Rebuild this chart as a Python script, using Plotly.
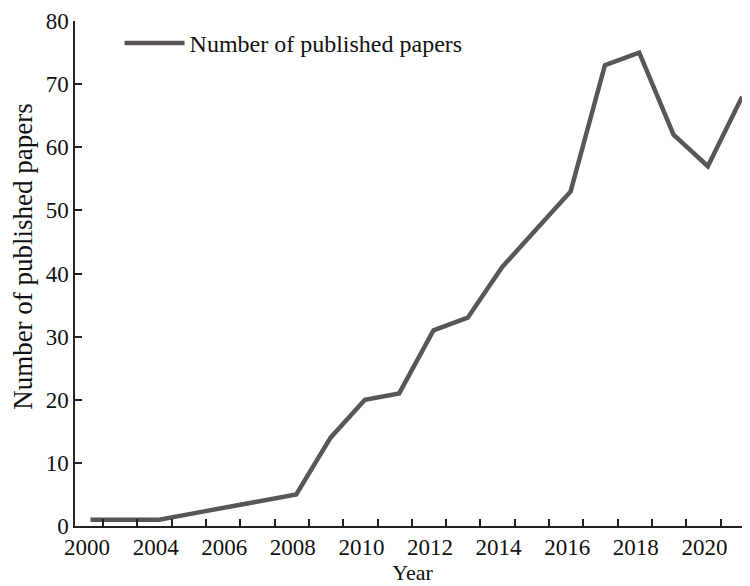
import plotly.graph_objects as go

# Data (20 yearly points, categorical positions)
point_index = list(range(20))
papers = [1, 1, 1, 2, 3, 4, 5, 14, 20, 21, 31, 33, 41, 47, 53, 73, 75, 62, 57, 68]
tick_labels = ["2000", "2004", "2006", "2008", "2010", "2012", "2014", "2016", "2018", "2020"]
y_ticks = [0, 10, 20, 30, 40, 50, 60, 70, 80]

FONT = "Liberation Serif, Times New Roman, serif"
LINE = "#5b5656"

label_pos = [2 * k - 0.1 for k in range(len(tick_labels))]
tick_pos = [k + 0.37 for k in range(19)]
x_range = [-0.452, 19.23]

fig = go.Figure()
fig.add_trace(go.Scatter(
    x=point_index, y=papers, mode="lines",
    line=dict(color=LINE, width=4.5),
    name="Number of published papers",
))
# invisible trace on the tick-mark axis
fig.add_trace(go.Scatter(x=[x_range[0]], y=[0], xaxis="x2", mode="markers",
                         marker=dict(opacity=0), showlegend=False, hoverinfo="skip"))

# page body has an 8px margin: figure sized so it ends at the window edge
fig.update_layout(
    width=742, height=578,
    margin=dict(l=67, r=0, t=13, b=60),
    paper_bgcolor="white", plot_bgcolor="white",
    font=dict(family=FONT, size=23, color="#111111"),
    showlegend=True,
    legend=dict(x=0.066, y=1.0, xanchor="left", yanchor="top",
                bgcolor="rgba(0,0,0,0)", font=dict(size=24, family=FONT),
                itemwidth=60),
    xaxis=dict(
        range=x_range, tickmode="array", tickvals=label_pos, ticktext=tick_labels,
        ticks="", showline=True, linecolor="#222222", linewidth=1.5,
        showgrid=False, zeroline=False, automargin=False,
        tickfont=dict(size=23, family=FONT),
        title=dict(text="Year", font=dict(size=22, family=FONT), standoff=0),
    ),
    xaxis2=dict(
        range=x_range, overlaying="x", side="bottom", anchor="y",
        tickmode="array", tickvals=tick_pos, showticklabels=False,
        ticks="inside", ticklen=7, tickwidth=1.5, tickcolor="#222222",
        showline=False, showgrid=False, zeroline=False, automargin=False,
    ),
    yaxis=dict(
        range=[0, 80], tickmode="array", tickvals=y_ticks,
        ticks="inside", ticklen=7, tickwidth=1.5, tickcolor="#222222",
        showline=True, linecolor="#222222", linewidth=1.5,
        showgrid=False, zeroline=False, automargin=False,
        tickfont=dict(size=23, family=FONT),
    ),
    annotations=[dict(
        text="Number of published papers", textangle=-90,
        xref="paper", yref="paper", x=-0.077, y=0.533,
        xanchor="center", yanchor="middle", showarrow=False, borderpad=0,
        font=dict(size=27, family=FONT, color="#111111"),
    )],
)

fig.write_html("out.html")
